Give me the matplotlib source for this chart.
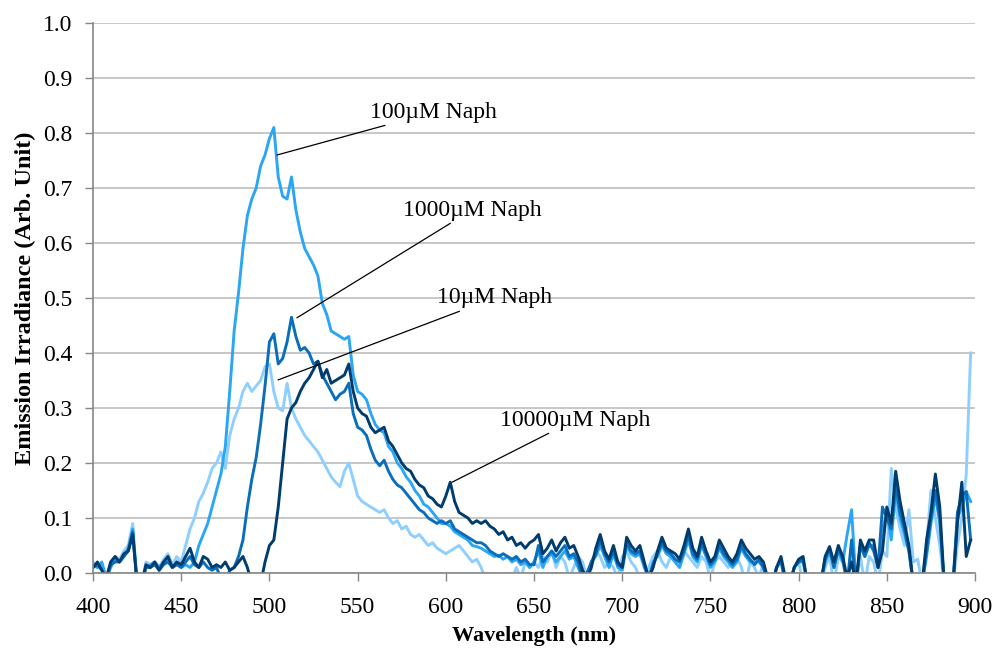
import numpy as np
import matplotlib
matplotlib.use('Agg')
import matplotlib.pyplot as plt

plt.rcParams['font.family'] = ['Liberation Serif', 'DejaVu Serif']

# comprimento de onda, passo de 2.5 nm (400 a 897.5)
wl = np.arange(400, 900, 2.5)

# 10uM Naph
naph_10 = [
    0.02, 0.01, 0.015, -0.01, 0.02, 0.03, 0.025, 0.04, 0.05, 0.09, -0.02, -0.02, 0.02, 0.015, 0.02, 0.01, 0.025, 0.035, 0.015, 0.03,
    0.02, 0.05, 0.08, 0.10, 0.13, 0.145, 0.165, 0.19, 0.20, 0.22, 0.19, 0.25, 0.28, 0.30, 0.33, 0.345, 0.33, 0.34, 0.35, 0.375,
    0.38, 0.33, 0.30, 0.295, 0.345, 0.30, 0.28, 0.265, 0.25, 0.24, 0.23, 0.22, 0.205, 0.19, 0.175, 0.165, 0.157, 0.185, 0.20, 0.17,
    0.14, 0.13, 0.125, 0.12, 0.115, 0.11, 0.115, 0.10, 0.09, 0.095, 0.08, 0.085, 0.07, 0.065, 0.07, 0.06, 0.05, 0.055, 0.045, 0.04,
    0.035, 0.04, 0.045, 0.05, 0.04, 0.03, 0.02, 0.025, 0.01, -0.01, -0.02, -0.02, -0.02, -0.02, -0.02, -0.01, 0.01, -0.01, 0.02, 0.01,
    0.02, 0.01, 0.03, 0.02, 0.04, 0.01, 0.03, 0.02, -0.01, 0.01, 0.03, 0.02, -0.01, 0.02, 0.04, 0.03, 0.01, 0.02, 0.01, -0.01,
    0.03, 0.04, 0.02, 0.01, -0.01, -0.02, 0.01, 0.03, 0.04, 0.02, 0.01, 0.03, 0.02, 0.01, 0.04, 0.03, 0.02, 0.01, 0.03, 0.02,
    -0.01, 0.02, 0.03, 0.02, 0.01, 0.02, 0.03, 0.01, -0.02, 0.02, 0.01, -0.01, 0.02, -0.02, -0.02, -0.02, -0.02, -0.02, -0.02, 0.01,
    0.02, -0.02, -0.02, -0.02, -0.02, -0.02, 0.01, 0.03, -0.02, 0.03, 0.02, -0.02, 0.04, -0.02, 0.03, -0.02, 0.03, 0.02, -0.02, 0.04,
    0.03, 0.19, 0.12, 0.08, 0.05, 0.115, 0.02, 0.025, -0.02, 0.05, 0.15, 0.10, 0.05, -0.02, -0.02, -0.02, 0.05, 0.10, 0.18, 0.40,
]

# 100uM Naph
naph_100 = [
    0.015, 0.01, 0.02, -0.01, 0.01, 0.025, 0.02, 0.03, 0.045, 0.08, -0.02, -0.02, 0.01, 0.015, 0.02, 0.01, 0.02, 0.025, 0.01, 0.02,
    0.01, 0.015, 0.01, 0.02, 0.05, 0.07, 0.09, 0.12, 0.15, 0.18, 0.23, 0.33, 0.44, 0.51, 0.59, 0.65, 0.68, 0.70, 0.74, 0.76,
    0.79, 0.81, 0.72, 0.685, 0.68, 0.72, 0.66, 0.62, 0.59, 0.575, 0.56, 0.54, 0.49, 0.47, 0.44, 0.435, 0.43, 0.425, 0.43, 0.36,
    0.33, 0.325, 0.315, 0.29, 0.27, 0.26, 0.255, 0.23, 0.22, 0.20, 0.19, 0.175, 0.165, 0.15, 0.14, 0.125, 0.12, 0.11, 0.10, 0.09,
    0.09, 0.085, 0.075, 0.07, 0.065, 0.06, 0.05, 0.048, 0.045, 0.04, 0.035, 0.03, 0.032, 0.025, 0.03, 0.02, 0.025, 0.015, 0.02, 0.01,
    0.02, 0.04, 0.01, 0.03, 0.035, 0.02, 0.03, 0.04, 0.025, 0.03, 0.01, -0.01, -0.01, 0.02, 0.03, 0.05, 0.03, 0.01, 0.035, 0.01,
    0.005, 0.05, 0.035, 0.03, 0.035, 0.01, -0.01, 0.02, 0.03, 0.05, 0.035, 0.03, 0.02, 0.01, 0.035, 0.06, 0.03, 0.02, 0.05, 0.03,
    0.01, 0.02, 0.045, 0.03, 0.02, 0.01, 0.02, 0.045, 0.03, 0.02, 0.02, 0.02, 0.01, -0.02, -0.02, 0.01, 0.02, -0.02, -0.02, 0.01,
    0.02, 0.02, -0.02, -0.02, -0.02, -0.02, 0.02, 0.04, 0.01, 0.04, 0.02, 0.07, 0.115, -0.02, 0.05, 0.03, 0.05, 0.05, 0.01, 0.08,
    0.11, 0.06, 0.15, 0.10, 0.07, 0.04, -0.02, -0.02, -0.02, 0.03, 0.09, 0.14, 0.09, -0.02, -0.02, -0.02, 0.10, 0.12, 0.148, 0.13,
]

# 1000uM Naph
naph_1000 = [
    0.01, 0.015, 0.005, -0.01, 0.015, 0.02, 0.02, 0.03, 0.04, 0.075, -0.02, -0.02, 0.01, 0.01, 0.015, 0.005, 0.015, 0.02, 0.01, 0.015,
    0.01, 0.02, 0.03, 0.015, 0.01, 0.02, 0.01, 0.005, 0.01, -0.01, -0.02, 0.005, 0.01, 0.03, 0.06, 0.12, 0.17, 0.21, 0.27, 0.34,
    0.42, 0.435, 0.38, 0.39, 0.42, 0.465, 0.43, 0.405, 0.41, 0.40, 0.38, 0.385, 0.36, 0.345, 0.33, 0.315, 0.325, 0.33, 0.345, 0.29,
    0.265, 0.26, 0.25, 0.225, 0.205, 0.195, 0.205, 0.185, 0.17, 0.16, 0.155, 0.145, 0.135, 0.125, 0.115, 0.11, 0.10, 0.095, 0.09, 0.095,
    0.09, 0.095, 0.08, 0.075, 0.07, 0.065, 0.06, 0.055, 0.055, 0.05, 0.04, 0.035, 0.03, 0.035, 0.03, 0.025, 0.03, 0.02, 0.025, 0.015,
    0.015, 0.05, 0.02, 0.03, 0.04, 0.03, 0.04, 0.05, 0.03, 0.035, 0.02, -0.01, 0.0, 0.02, 0.035, 0.06, 0.035, 0.02, 0.04, 0.015,
    0.01, 0.055, 0.04, 0.035, 0.04, 0.015, -0.01, 0.015, 0.035, 0.055, 0.04, 0.035, 0.025, 0.02, 0.04, 0.07, 0.035, 0.025, 0.055, 0.035,
    0.015, 0.025, 0.05, 0.035, 0.025, 0.015, 0.025, 0.05, 0.035, 0.025, 0.015, 0.025, 0.01, -0.02, -0.02, 0.01, 0.025, -0.02, -0.02, 0.01,
    0.02, 0.025, -0.02, -0.02, -0.02, -0.02, 0.025, 0.045, 0.01, 0.045, 0.025, -0.02, 0.06, -0.02, 0.05, 0.03, 0.055, 0.04, 0.01, 0.12,
    0.10, 0.08, 0.16, 0.11, 0.08, 0.04, -0.02, -0.02, -0.02, 0.04, 0.10, 0.15, 0.10, -0.02, -0.02, -0.02, 0.11, 0.14, 0.148, 0.06,
]

# 10000uM Naph
naph_10000 = [
    0.01, 0.02, 0.005, -0.01, 0.02, 0.03, 0.02, 0.035, 0.04, 0.07, -0.02, -0.02, 0.015, 0.01, 0.02, 0.005, 0.02, 0.03, 0.01, 0.02,
    0.015, 0.03, 0.045, 0.02, 0.01, 0.03, 0.025, 0.01, 0.015, 0.01, 0.02, 0.005, 0.01, 0.02, 0.03, 0.01, -0.02, -0.02, -0.02, 0.02,
    0.05, 0.06, 0.12, 0.20, 0.28, 0.30, 0.31, 0.33, 0.345, 0.355, 0.37, 0.385, 0.355, 0.37, 0.345, 0.35, 0.355, 0.36, 0.38, 0.33,
    0.30, 0.29, 0.285, 0.265, 0.255, 0.26, 0.265, 0.24, 0.23, 0.215, 0.20, 0.19, 0.185, 0.17, 0.16, 0.155, 0.14, 0.135, 0.125, 0.12,
    0.14, 0.165, 0.13, 0.11, 0.105, 0.10, 0.09, 0.095, 0.09, 0.095, 0.085, 0.08, 0.07, 0.075, 0.06, 0.065, 0.05, 0.055, 0.045, 0.055,
    0.06, 0.07, 0.035, 0.045, 0.06, 0.04, 0.055, 0.065, 0.045, 0.05, 0.03, 0.005, -0.01, 0.01, 0.045, 0.07, 0.04, 0.025, 0.05, 0.02,
    0.01, 0.065, 0.05, 0.04, 0.05, 0.02, -0.01, 0.01, 0.04, 0.065, 0.045, 0.04, 0.035, 0.025, 0.05, 0.08, 0.045, 0.03, 0.065, 0.04,
    0.02, 0.03, 0.06, 0.045, 0.03, 0.02, 0.035, 0.06, 0.045, 0.035, 0.025, 0.03, 0.02, -0.01, -0.02, 0.01, 0.03, -0.01, -0.02, 0.01,
    0.025, 0.03, -0.02, -0.02, -0.02, -0.02, 0.03, 0.048, 0.02, 0.05, 0.03, -0.01, 0.02, -0.02, 0.06, 0.04, 0.06, 0.06, 0.01, 0.04,
    0.12, 0.09, 0.185, 0.13, 0.09, 0.05, -0.02, -0.02, -0.02, 0.06, 0.11, 0.18, 0.12, -0.02, -0.02, -0.02, 0.09, 0.165, 0.03, 0.06,
]

series = [naph_10, naph_100, naph_1000, naph_10000]
cores = ['#8ECFFF', '#2AA6F5', '#0A6EBA', '#003D6E']

xticks = list(range(400, 901, 50))
yticks = [0.0, 0.1, 0.2, 0.3, 0.4, 0.5, 0.6, 0.7, 0.8, 0.9, 1.0]

# rotulos: texto, ponta da linha, inicio do texto
rotulos = [
    ('100\u00b5M Naph', (504.3, 0.76), (557, 0.838)),
    ('1000\u00b5M Naph', (515.6, 0.464), (575.5, 0.66)),
    ('10\u00b5M Naph', (504.9, 0.351), (595, 0.50)),
    ('10000\u00b5M Naph', (603.5, 0.165), (630.5, 0.278)),
]

fig = plt.figure(figsize=(9.97, 6.52), dpi=100)
ax = fig.add_axes([0.0933, 0.1212, 0.8847, 0.8435])

for y, c in zip(series, cores):
    ax.plot(wl, y, color=c, lw=2.1, solid_joinstyle='round')

for txt, tip, pos in rotulos:
    ax.annotate(txt, xy=tip, xytext=pos, ha='left', va='center', fontsize=17,
                arrowprops=dict(arrowstyle='-', color='black', lw=0.9, shrinkA=0, shrinkB=0))

ax.set_xlim(400, 900)
ax.set_ylim(0, 1.0)
ax.set_xticks(xticks)
ax.set_yticks(yticks)
ax.set_yticklabels(['%.1f' % v for v in yticks])
ax.tick_params(labelsize=17, color='#868686', length=6, width=1)
ax.tick_params(axis='y', pad=9)
ax.tick_params(axis='x', pad=11)
ax.grid(axis='y', color='#BEBEBE', lw=1.2)
ax.set_axisbelow(True)
for s in ['top', 'right']:
    ax.spines[s].set_visible(False)
for s in ['left', 'bottom']:
    ax.spines[s].set_color('#868686')
    ax.spines[s].set_linewidth(1.2)

ax.set_xlabel('Wavelength (nm)', fontsize=16, fontweight='bold', labelpad=6)
ax.set_ylabel('Emission Irradiance (Arb. Unit)', fontsize=17.5, fontweight='bold', labelpad=5)

plt.savefig('out.png', dpi=100)
